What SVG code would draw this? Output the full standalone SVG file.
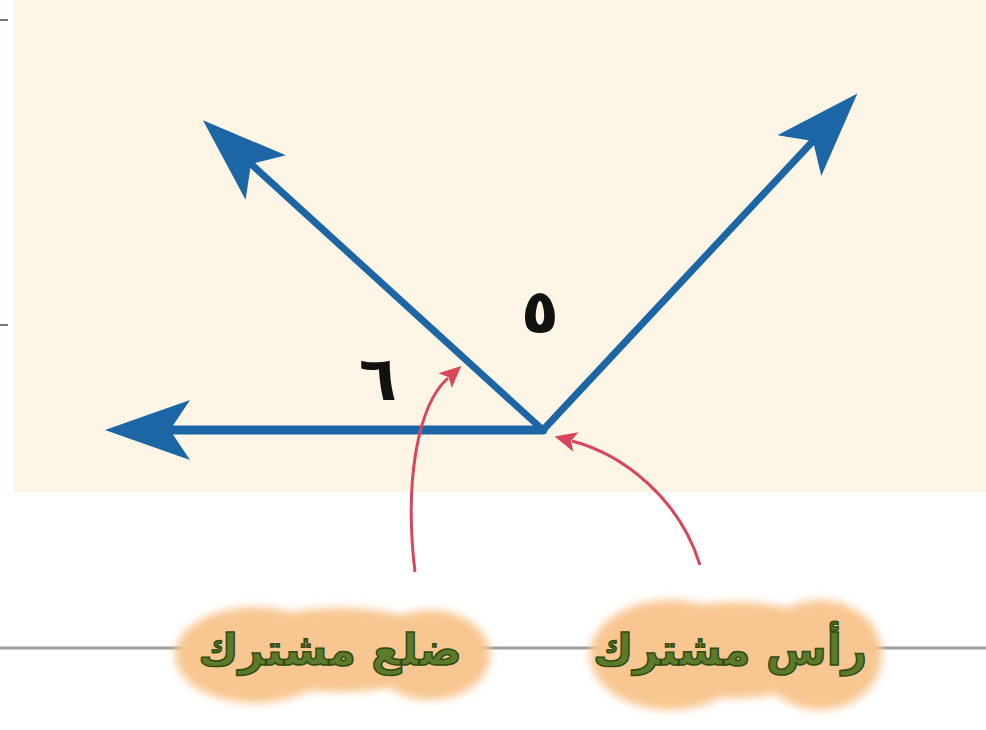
<svg xmlns="http://www.w3.org/2000/svg" width="986" height="730" viewBox="0 0 986 730">
<style>
.ray{stroke:#1d66a6;fill:none;stroke-linecap:round}
.ptr{stroke:#d8465c;stroke-width:3;fill:none}
.num{font-family:"DejaVu Sans",sans-serif;font-weight:bold;font-size:62px;fill:#111}
.lbl{font-family:"DejaVu Sans",sans-serif;font-weight:bold;font-size:44px;fill:#5d7a2a;stroke:#2f4a12;stroke-width:1.5;text-anchor:middle}
.blob{fill:#f8c690}
</style>
<defs>
<marker id="bh" markerUnits="userSpaceOnUse" markerWidth="100" markerHeight="80" refX="20" refY="32" orient="auto" viewBox="0 0 100 64">
<path d="M85,32 L0,2 L20,32 L0,62 Z" fill="#1d66a6"/>
</marker>
<marker id="rh" markerUnits="userSpaceOnUse" markerWidth="24" markerHeight="24" refX="4" refY="10" orient="auto" viewBox="0 0 24 20">
<path d="M22,10 L0,0 L5,10 L0,20 Z" fill="#d8465c"/>
</marker>
<filter id="soft" x="-10%" y="-20%" width="120%" height="140%"><feGaussianBlur stdDeviation="4"/></filter>
</defs>
<rect x="0" y="0" width="986" height="730" fill="#ffffff"/>
<rect x="14" y="0" width="972" height="492" fill="#fdf5e5"/>
<line x1="0" y1="20" x2="8" y2="20" stroke="#777" stroke-width="2"/>
<line x1="0" y1="325" x2="8" y2="325" stroke="#777" stroke-width="2"/>
<line x1="0" y1="648" x2="986" y2="648" stroke="#9d9d9d" stroke-width="3"/>
<g id="connectors">
<line class="ray" x1="543" y1="430" x2="170" y2="430" stroke-width="9" marker-end="url(#bh)"/>
<line class="ray" x1="543" y1="430" x2="251" y2="164" stroke-width="7" marker-end="url(#bh)"/>
<line class="ray" x1="543" y1="430" x2="813" y2="141" stroke-width="7" marker-end="url(#bh)"/>
<path class="ptr" d="M415,572 C404,480 418,405 448,378" marker-end="url(#rh)"/>
<path class="ptr" d="M700,565 C680,500 625,455 572,441" marker-end="url(#rh)"/>
</g>
<g id="angle5"><text class="num" x="540" y="333" text-anchor="middle">٥</text></g>
<g id="angle6"><text class="num" x="378" y="400" text-anchor="middle">٦</text></g>
<g id="common-side">
<g filter="url(#soft)">
<ellipse class="blob" cx="255" cy="655" rx="80" ry="48"/>
<ellipse class="blob" cx="340" cy="650" rx="110" ry="42"/>
<ellipse class="blob" cx="430" cy="655" rx="60" ry="45"/>
</g>
<text class="lbl" x="330" y="665">ضلع مشترك</text>
</g>
<g id="common-vertex">
<g filter="url(#soft)">
<ellipse class="blob" cx="670" cy="655" rx="80" ry="55"/>
<ellipse class="blob" cx="735" cy="650" rx="110" ry="48"/>
<ellipse class="blob" cx="820" cy="655" rx="62" ry="55"/>
</g>
<text class="lbl" x="730" y="665">رأس مشترك</text>
</g>
</svg>
